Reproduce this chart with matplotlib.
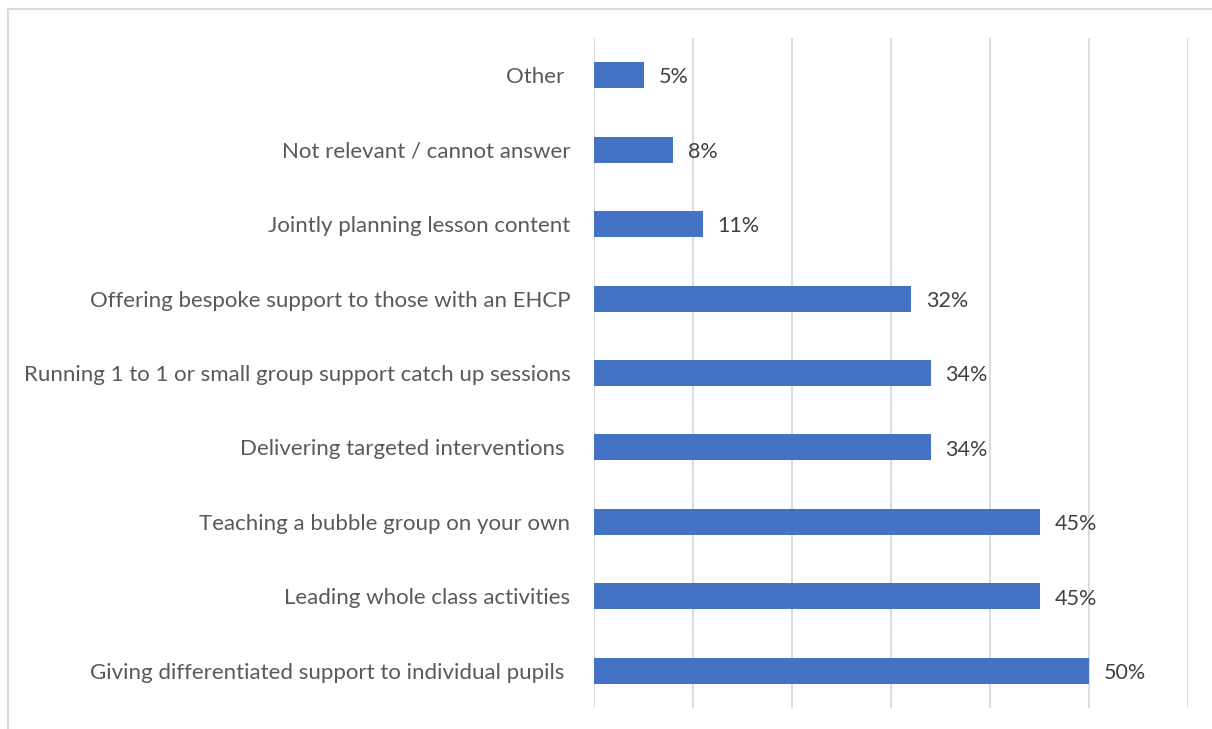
import matplotlib.pyplot as plt
from matplotlib.patches import Rectangle

categories = [
    "Giving differentiated support to individual pupils ",
    "Leading whole class activities",
    "Teaching a bubble group on your own",
    "Delivering targeted interventions ",
    "Running 1 to 1 or small group support catch up sessions",
    "Offering bespoke support to those with an EHCP",
    "Jointly planning lesson content",
    "Not relevant / cannot answer",
    "Other ",
]
values = [50, 45, 45, 34, 34, 32, 11, 8, 5]
xticks = [0, 10, 20, 30, 40, 50, 60]

plt.rcParams['font.family'] = ['Lato', 'DejaVu Sans']

fig = plt.figure(figsize=(12.12, 7.29), dpi=100)
ax = fig.add_axes([594 / 1212, 1 - 708 / 729, 594 / 1212, 670 / 729])

pos = list(range(len(categories)))
ax.barh(pos, values, height=0.35, color='#4472C4', zorder=3)
for p, v in zip(pos, values):
    ax.text(v + 1.5, p - 0.03, f'{v}%', va='center', ha='left',
            fontsize=15.5, color='#404040')

ax.set_xlim(0, 60)
ax.set_ylim(-0.5, 8.5)
ax.set_xticks(xticks)
ax.xaxis.grid(True, color='#d9d9d9', lw=1.3, zorder=0)
ax.tick_params(axis='x', length=0, labelbottom=False)
ax.tick_params(axis='y', length=0, pad=17)
ax.set_yticks(pos)
ax.set_yticklabels(categories, fontsize=16, color='#595959')
for s in ax.spines.values():
    s.set_visible(False)

# outer frame of the chart box
fig.patches.append(Rectangle((8 / 1212, -0.1), 1.2, 1.1 - 9 / 729,
                             transform=fig.transFigure, fill=False,
                             edgecolor='#d9d9d9', lw=1.5))

fig.savefig('out.png', dpi=100)
